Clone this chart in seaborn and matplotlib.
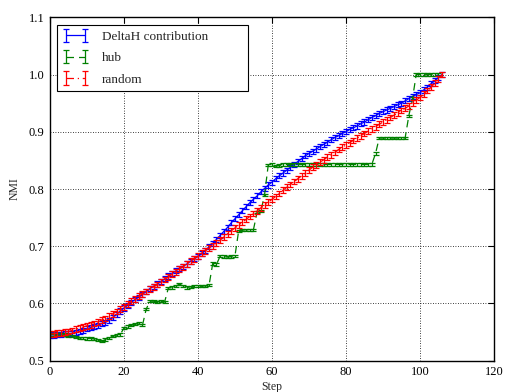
import numpy as np
import matplotlib
matplotlib.use("Agg")
import matplotlib.pyplot as plt
import seaborn as sns

# NMI per step
steps_delta = list(range(0, 107))
nmi_delta = [
    0.545, 0.545, 0.546, 0.546, 0.547, 0.547, 0.548, 0.549, 0.551, 0.553,
    0.556, 0.558, 0.560, 0.562, 0.565, 0.567, 0.571, 0.576, 0.581, 0.587,
    0.592, 0.597, 0.602, 0.607, 0.611, 0.616, 0.621, 0.626, 0.630, 0.634,
    0.638, 0.643, 0.648, 0.652, 0.657, 0.661, 0.665, 0.669, 0.674, 0.678,
    0.682, 0.687, 0.693, 0.699, 0.705, 0.712, 0.719, 0.726, 0.733, 0.741,
    0.748, 0.755, 0.762, 0.769, 0.776, 0.782, 0.788, 0.795, 0.801, 0.807,
    0.812, 0.818, 0.823, 0.828, 0.833, 0.838, 0.843, 0.848, 0.853, 0.858,
    0.862, 0.866, 0.870, 0.874, 0.878, 0.882, 0.886, 0.890, 0.893, 0.897,
    0.900, 0.904, 0.907, 0.910, 0.914, 0.917, 0.921, 0.925, 0.928, 0.932,
    0.935, 0.938, 0.941, 0.944, 0.947, 0.950, 0.954, 0.958, 0.961, 0.965,
    0.968, 0.973, 0.978, 0.984, 0.989, 0.995, 1.000,
]
err_delta = 0.0045

steps_hub = list(range(0, 106))
nmi_hub = [
    0.546, 0.546, 0.547, 0.547, 0.546, 0.544, 0.543, 0.541, 0.540, 0.540,
    0.539, 0.539, 0.538, 0.536, 0.534, 0.537, 0.540, 0.543, 0.545, 0.546,
    0.557, 0.560, 0.562, 0.564, 0.566, 0.562, 0.590, 0.604, 0.604, 0.603,
    0.604, 0.603, 0.627, 0.628, 0.630, 0.634, 0.630, 0.628, 0.629, 0.631,
    0.630, 0.630, 0.631, 0.632, 0.670, 0.668, 0.683, 0.682, 0.681, 0.682,
    0.683, 0.727, 0.728, 0.729, 0.728, 0.729, 0.760, 0.761, 0.790, 0.842,
    0.843, 0.840, 0.841, 0.843, 0.843, 0.843, 0.843, 0.843, 0.843, 0.843,
    0.843, 0.843, 0.843, 0.843, 0.843, 0.843, 0.843, 0.843, 0.843, 0.843,
    0.843, 0.843, 0.843, 0.843, 0.843, 0.843, 0.843, 0.843, 0.862, 0.889,
    0.889, 0.889, 0.889, 0.889, 0.889, 0.889, 0.889, 0.928, 0.958, 1.000,
    1.000, 1.000, 1.000, 1.000, 1.000, 1.000,
]
err_hub = 0.002

steps_random = list(range(0, 107))
nmi_random = [
    0.547, 0.547, 0.548, 0.549, 0.550, 0.551, 0.553, 0.555, 0.557, 0.559,
    0.561, 0.563, 0.565, 0.568, 0.571, 0.574, 0.578, 0.582, 0.586, 0.590,
    0.594, 0.599, 0.604, 0.608, 0.613, 0.617, 0.621, 0.625, 0.629, 0.633,
    0.637, 0.642, 0.646, 0.651, 0.655, 0.660, 0.664, 0.669, 0.674, 0.678,
    0.683, 0.688, 0.692, 0.697, 0.701, 0.706, 0.711, 0.716, 0.722, 0.727,
    0.732, 0.737, 0.742, 0.747, 0.752, 0.757, 0.762, 0.767, 0.772, 0.777,
    0.782, 0.787, 0.792, 0.798, 0.803, 0.808, 0.813, 0.818, 0.823, 0.828,
    0.833, 0.838, 0.842, 0.847, 0.851, 0.856, 0.860, 0.864, 0.869, 0.873,
    0.877, 0.881, 0.885, 0.889, 0.893, 0.897, 0.901, 0.905, 0.909, 0.913,
    0.917, 0.921, 0.925, 0.929, 0.933, 0.937, 0.941, 0.945, 0.950, 0.955,
    0.960, 0.966, 0.972, 0.978, 0.985, 0.992, 1.000,
]
err_random = 0.005

labels = ["DeltaH contribution", "hub", "random"]
x_ticks = [0, 20, 40, 60, 80, 100, 120]
y_ticks = [0.5, 0.6, 0.7, 0.8, 0.9, 1.0, 1.1]

sns.set_style("white")
plt.rcParams["font.family"] = ["Liberation Serif", "DejaVu Serif"]

fig = plt.figure(figsize=(5.05, 3.92), dpi=100)
ax = fig.add_axes([0.099, 0.0798, 0.879, 0.876])

series = [
    (steps_delta, nmi_delta, err_delta, (0, 0, 1), "-"),
    (steps_hub, nmi_hub, err_hub, (0, 0.5, 0), (0, (6, 4))),
    (steps_random, nmi_random, err_random, (1, 0, 0), (0, (6, 3, 1, 3))),
]

handles = []
for (xs, ys, e, col, ls), lab in zip(series, labels):
    sns.lineplot(x=xs, y=ys, color=col, linestyle=ls, linewidth=0.9,
                 errorbar=None, ax=ax, legend=False)
    line = ax.get_lines()[-1]
    eb = ax.errorbar(xs, ys, yerr=e, fmt="none", ecolor=col,
                     elinewidth=0.9, capsize=2.0, capthick=0.9)
    handles.append((line, eb))

ax.set_xlim(0, 120)
ax.set_ylim(0.5, 1.1)
ax.set_xticks(x_ticks)
ax.set_yticks(y_ticks)
ax.set_xticklabels([str(t) for t in x_ticks])
ax.set_yticklabels(["%.1f" % t for t in y_ticks])
ax.grid(True, color="black", linestyle=(0, (1, 2)), linewidth=0.6)
ax.tick_params(direction="in", length=4, width=0.8, top=True, right=True,
               labelsize=9, pad=4, colors="black")
for s in ax.spines.values():
    s.set_color("black")
    s.set_linewidth(1.0)

ax.set_xlabel("Step", fontsize=8.5, labelpad=2)
ax.set_ylabel("NMI", fontsize=8.5, labelpad=6)

leg = ax.legend(handles, labels, loc="upper left", numpoints=2,
                bbox_to_anchor=(0.0158, 0.977, 0.43, 0.0),
                mode="expand", fontsize=9.5, frameon=True, fancybox=False,
                edgecolor="black", framealpha=1, borderaxespad=0,
                handlelength=2.0, handletextpad=1.0, labelspacing=0.7,
                borderpad=0.4)
leg.get_frame().set_linewidth(0.8)

fig.savefig("out.png", dpi=100)
